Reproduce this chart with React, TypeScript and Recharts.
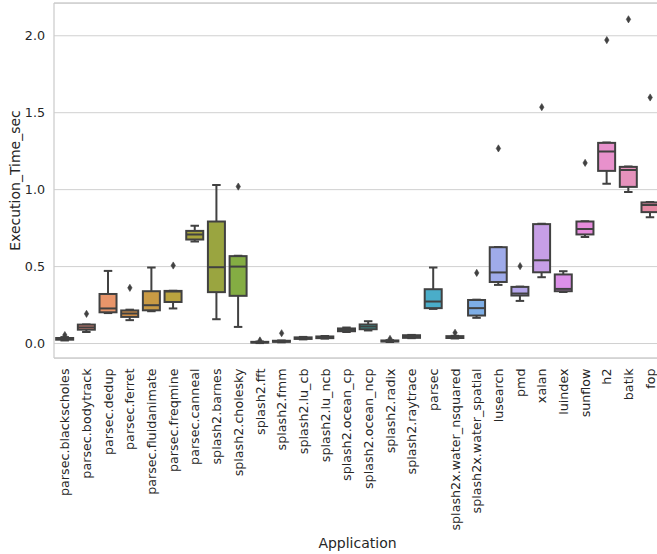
import React from 'react';
import { ComposedChart, Bar, Line, XAxis, YAxis, CartesianGrid, ReferenceLine } from 'recharts';

const apps = [
  'parsec.blackscholes', 'parsec.bodytrack', 'parsec.dedup', 'parsec.ferret', 'parsec.fluidanimate',
  'parsec.freqmine', 'parsec.canneal', 'splash2.barnes', 'splash2.cholesky', 'splash2.fft',
  'splash2.fmm', 'splash2.lu_cb', 'splash2.lu_ncb', 'splash2.ocean_cp', 'splash2.ocean_ncp',
  'splash2.radix', 'splash2.raytrace', 'parsec', 'splash2x.water_nsquared', 'splash2x.water_spatial',
  'lusearch', 'pmd', 'xalan', 'luindex', 'sunflow', 'h2', 'batik', 'fop',
];

const whiskerLow = [0.02, 0.075, 0.198, 0.152, 0.21, 0.228, 0.663, 0.158, 0.108, 0.003, 0.008, 0.027, 0.032, 0.075, 0.085, 0.01, 0.035, 0.225, 0.033, 0.167, 0.381, 0.277, 0.431, 0.335, 0.693, 1.038, 0.984, 0.821];
const q1 = [0.025, 0.09, 0.203, 0.173, 0.216, 0.27, 0.676, 0.334, 0.31, 0.006, 0.011, 0.03, 0.035, 0.08, 0.093, 0.013, 0.037, 0.23, 0.036, 0.182, 0.4, 0.312, 0.463, 0.34, 0.709, 1.122, 1.018, 0.854];
const median = [0.03, 0.105, 0.228, 0.195, 0.249, 0.338, 0.709, 0.496, 0.5, 0.008, 0.014, 0.035, 0.04, 0.089, 0.11, 0.016, 0.045, 0.273, 0.041, 0.23, 0.462, 0.325, 0.541, 0.355, 0.745, 1.248, 1.127, 0.9];
const q3 = [0.036, 0.123, 0.322, 0.215, 0.34, 0.342, 0.732, 0.793, 0.568, 0.011, 0.018, 0.04, 0.046, 0.098, 0.124, 0.02, 0.054, 0.353, 0.048, 0.283, 0.626, 0.368, 0.776, 0.449, 0.793, 1.304, 1.148, 0.917];
const whiskerHigh = [0.042, 0.124, 0.472, 0.22, 0.494, 0.343, 0.765, 1.031, 0.57, 0.013, 0.02, 0.043, 0.049, 0.104, 0.145, 0.022, 0.056, 0.494, 0.05, 0.285, 0.628, 0.37, 0.778, 0.47, 0.795, 1.306, 1.15, 0.92];
const outliers: (number | null)[] = [0.055, 0.193, null, 0.362, null, 0.507, null, null, 1.02, 0.02, 0.067, null, null, null, null, 0.03, null, null, 0.07, 0.459, 1.268, 0.503, 1.536, null, 1.174, 1.972, 2.107, 1.599];

const palette = [
  '#e0808c', '#e88a7c', '#e8956a', '#dc9447', '#c99a44', '#bba43f', '#a8a43c', '#9aa540',
  '#84ad43', '#5fb04f', '#46b063', '#3daf7c', '#3aad8b', '#39ac98', '#39aaa5', '#3ba9b2',
  '#3ea9bd', '#4aadc9', '#5fabd9', '#7eaee6', '#9fabea', '#b4a5ea', '#c79fe6', '#dc90e8',
  '#e68cdc', '#e891cc', '#e692bc', '#e58aa4',
];

const yTicks = [0, 0.5, 1.0, 1.5, 2.0];
const yDomain = [-0.094, 2.213];

const data = apps.map((app, i) => ({
  app,
  range: [whiskerLow[i], whiskerHigh[i]],
  q1: q1[i],
  median: median[i],
  q3: q3[i],
  outlier: outliers[i],
}));

const EDGE = '#414141';
const FONT = 'DejaVu Sans';
const TICK_SIZE = 12.7;

function BoxShape(props: any) {
  const { x, y, width, height } = props;
  const p = props.payload && props.payload.range ? props.payload : props;
  const idx = apps.indexOf(p.app);
  const lo = p.range[0];
  const hi = p.range[1];
  const top = Math.min(y, y + height);
  const h = Math.abs(height);
  const px = (v: number) => top + ((hi - v) / (hi - lo)) * h;
  const cx = x + width / 2;
  const cap = width / 4;
  const yq1 = px(p.q1);
  const yq3 = px(p.q3);
  const ym = px(p.median);
  return (
    <g>
      <line x1={cx} x2={cx} y1={px(hi)} y2={yq3} stroke={EDGE} strokeWidth={2} />
      <line x1={cx} x2={cx} y1={yq1} y2={px(lo)} stroke={EDGE} strokeWidth={2} />
      <line x1={cx - cap} x2={cx + cap} y1={px(hi)} y2={px(hi)} stroke={EDGE} strokeWidth={2} />
      <line x1={cx - cap} x2={cx + cap} y1={px(lo)} y2={px(lo)} stroke={EDGE} strokeWidth={2} />
      <rect x={x} y={yq3} width={width} height={Math.max(yq1 - yq3, 0.5)} fill={palette[idx]} stroke={EDGE} strokeWidth={2} />
      <line x1={x} x2={x + width} y1={ym} y2={ym} stroke={EDGE} strokeWidth={2} />
    </g>
  );
}

function OutlierDot(props: any) {
  const { cx, cy, index, value } = props;
  const v = props.payload ? props.payload.outlier : value;
  if (v == null || cy == null || isNaN(cy)) return <g key={`o-${index}`} />;
  return (
    <path
      key={`o-${index}`}
      d={`M${cx},${cy - 3.6} L${cx + 2.2},${cy} L${cx},${cy + 3.6} L${cx - 2.2},${cy} Z`}
      fill={EDGE}
      stroke={EDGE}
      strokeWidth={0.6}
    />
  );
}

function XTick(props: any) {
  const { x, y, payload } = props;
  return (
    <g transform={`translate(${x},${y})`}>
      <text
        transform="rotate(-90)"
        x={-2.5}
        y={0}
        dy="0.36em"
        textAnchor="end"
        fill="#262626"
        fontSize={TICK_SIZE}
        fontFamily={FONT}
      >
        {payload.value}
      </text>
    </g>
  );
}

export default function App() {
  return (
    <div style={{ position: 'absolute', left: 0, top: 0, width: 657, height: 554, overflow: 'hidden', background: '#fff' }}>
      <ComposedChart
        width={661}
        height={554}
        data={data}
        margin={{ top: 3, right: 0, bottom: 0, left: 0 }}
        barCategoryGap="10%"
      >
        <CartesianGrid horizontal vertical={false} stroke="#d0d0d0" strokeWidth={1} />
        <ReferenceLine y={yDomain[1]} stroke="#cccccc" strokeWidth={1.25} />
        <XAxis
          dataKey="app"
          type="category"
          interval={0}
          tickLine={false}
          axisLine={{ stroke: '#cccccc', strokeWidth: 1.25 }}
          height={196}
          tick={<XTick />}
          label={{
            content: (p: any) => {
              const vb = p.viewBox || { x: 54, y: 358, width: 607, height: 196 };
              return (
                <text x={vb.x + vb.width / 2} y={548} textAnchor="middle" fill="#262626" fontSize={14} fontFamily={FONT}>
                  Application
                </text>
              );
            },
          }}
        />
        <YAxis
          type="number"
          domain={yDomain}
          ticks={yTicks}
          allowDataOverflow
          width={54}
          tickLine={false}
          tickMargin={3}
          axisLine={{ stroke: '#cccccc', strokeWidth: 1.25 }}
          tickFormatter={(v: number) => v.toFixed(1)}
          tick={{ fill: '#262626', fontSize: TICK_SIZE, fontFamily: FONT }}
          label={{
            content: (p: any) => {
              const vb = p.viewBox || { x: 0, y: 3, width: 54, height: 355 };
              const cy = vb.y + vb.height / 2;
              return (
                <text x={20} y={cy} transform={`rotate(-90, 20, ${cy})`} textAnchor="middle" fill="#262626" fontSize={14} fontFamily={FONT}>
                  Execution_Time_sec
                </text>
              );
            },
          }}
        />
        <Bar dataKey="range" shape={<BoxShape />} isAnimationActive={false} />
        <Line dataKey="outlier" stroke="none" dot={OutlierDot} activeDot={false} isAnimationActive={false} connectNulls={false} legendType="none" />
      </ComposedChart>
    </div>
  );
}
